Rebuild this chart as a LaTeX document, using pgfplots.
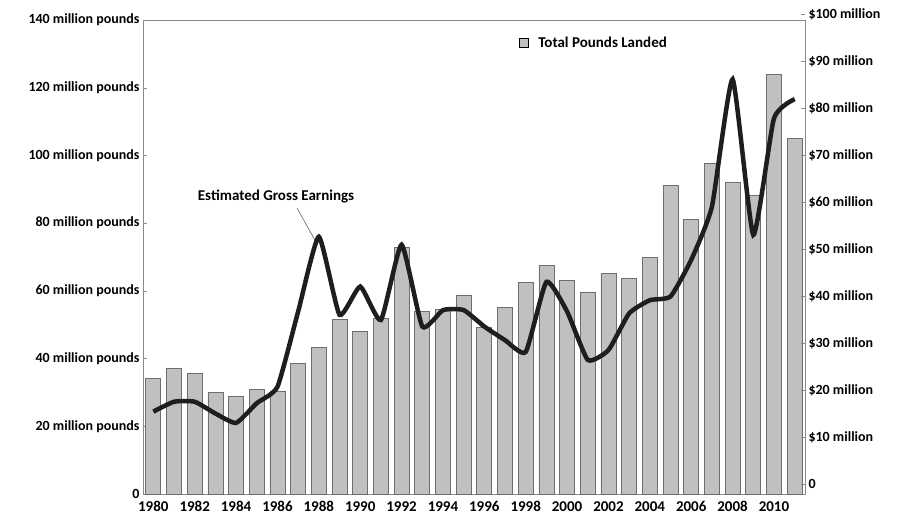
\documentclass[border=0pt]{standalone}
\usepackage{fontspec}
\setmainfont{Carlito}
\usepackage{pgfplots}
\pgfplotsset{compat=1.18}
\definecolor{barfill}{HTML}{C0C0C0}
\definecolor{baredge}{HTML}{6E6E6E}
\definecolor{linecol}{HTML}{1E1E1E}
\definecolor{axcol}{HTML}{8A8A8A}
\pgfplotstableread{
year pounds
1980 34.0
1981 37.0
1982 35.6
1983 29.9
1984 28.7
1985 31.0
1986 30.2
1987 38.6
1988 43.3
1989 51.6
1990 47.9
1991 51.9
1992 72.7
1993 53.9
1994 54.5
1995 58.6
1996 49.2
1997 55.1
1998 62.4
1999 67.6
2000 63.2
2001 59.6
2002 65.2
2003 63.7
2004 69.8
2005 91.1
2006 81.0
2007 97.6
2008 92.1
2009 88.3
2010 123.8
2011 104.9
}\poundsdata
\pgfplotstableread{
year earnings
1980 15.4
1981 17.5
1982 17.5
1983 15.0
1984 13.0
1985 17.2
1986 20.7
1987 36.7
1988 52.6
1989 36.0
1990 42.0
1991 34.9
1992 50.9
1993 33.5
1994 37.0
1995 37.0
1996 33.5
1997 30.6
1998 28.1
1999 43.0
2000 36.7
2001 26.4
2002 28.5
2003 36.3
2004 39.1
2005 39.9
2006 47.7
2007 59.0
2008 86.1
2009 53.0
2010 77.8
2011 81.9
}\earningsdata
\newcommand{\lblfont}{\bfseries\fontsize{14}{16}\selectfont}
\newcommand{\bigfont}{\bfseries\fontsize{15}{17}\selectfont}
\begin{document}
\begin{tikzpicture}[x=1pt,y=1pt]
\path[use as bounding box] (0,0) rectangle (902,522);
\begin{axis}[
  at={(143pt,28pt)}, anchor=south west,
  width=662pt, height=474pt, scale only axis,
  xmin=1979.5, xmax=2011.5,
  ymin=0, ymax=140,
  ybar, bar width=15pt,
  axis line style={axcol, line width=0.8pt},
  ytick={0,20,...,140},
  yticklabels={0,20 million pounds,40 million pounds,60 million pounds,80 million pounds,100 million pounds,120 million pounds,140 million pounds},
  ytick pos=left,
  ytick style={axcol},
  major tick length=4pt,
  xtick={1980,1982,...,2010},
  xticklabels={1980,1982,1984,1986,1988,1990,1992,1994,1996,1998,2000,2002,2004,2006,2008,2010},
  xtick style={draw=none},
  tick label style={font=\lblfont, text=black},
  xticklabel style={font=\bigfont},
  legend style={at={(0.563,0.951)}, anchor=west, draw=none, fill=none, font=\bigfont},
  legend image code/.code={\draw[fill=barfill, draw=black, line width=0.8pt] (0pt,-4.5pt) rectangle (9pt,4.5pt); \path[draw=none, fill=none] (0pt,0pt) -- (17pt,0pt);},
  clip=false,
]
\addplot[fill=barfill, draw=baredge, line width=0.8pt] table[x=year, y=pounds] {\poundsdata};
\addlegendentry{Total Pounds Landed}
\node[font=\bigfont] at (axis cs:1985.93,88) {Estimated Gross Earnings};
\draw[axcol!70!black, line width=0.6pt] (axis cs:1986.94,84.5) -- (axis cs:1987.81,75);
\end{axis}
\begin{axis}[
  at={(143pt,38pt)}, anchor=south west,
  width=662pt, height=470pt, scale only axis,
  xmin=1979.5, xmax=2011.5,
  ymin=0, ymax=100,
  axis x line=none,
  axis y line*=right,
  y axis line style={draw=none},
  ytick={0,10,...,100},
  yticklabels={0,\$10 million,\$20 million,\$30 million,\$40 million,\$50 million,\$60 million,\$70 million,\$80 million,\$90 million,\$100 million},
  ytick style={axcol},
  major tick length=4pt,
  tick label style={font=\lblfont, text=black},
]
\addplot[linecol, line width=4.5pt, smooth, tension=0.3, mark=none] table[x=year, y=earnings] {\earningsdata};
\end{axis}
\end{tikzpicture}
\end{document}
